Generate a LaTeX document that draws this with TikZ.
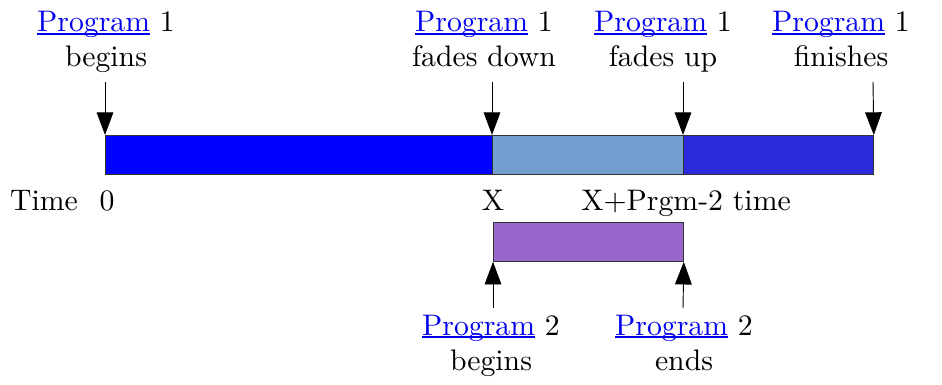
\documentclass[tikz,border=0pt]{standalone}
\usepackage{fontspec}
\setmainfont{lmroman10-regular}[Extension=.otf]
\usetikzlibrary{arrows.meta}

\definecolor{linkblue}{HTML}{0000EE}
\definecolor{progA}{HTML}{0000FF}
\definecolor{progFade}{HTML}{729FCF}
\definecolor{progB}{HTML}{2A2ADB}
\definecolor{progTwo}{HTML}{9966CC}
\definecolor{edge}{HTML}{333333}

% blue underlined link word
\newcommand{\proglink}{\textcolor{linkblue}{\setbox0\hbox{Program}\rlap{\rule[-0.085em]{\wd0}{0.05em}}\box0}}

\tikzset{
  lbl/.style={anchor=base, inner sep=0pt, font=\rmfamily\fontsize{22.3}{26}\selectfont},
  seg/.style={draw=edge, line width=0.6pt, anchor=north west, inner sep=0pt,
              minimum height=29.25pt},
  arr/.style={line width=0.7pt, -{Triangle[length=17pt, width=12.5pt]}},
}

\begin{document}
\begin{tikzpicture}[x=0.75pt, y=-0.75pt]
\useasboundingbox (0,0) rectangle (942,385);

% program 1 timeline
\node[seg, fill=progA,    minimum width=290.25pt] (bar1) at (105,135) {};
\node[seg, fill=progFade, minimum width=143.25pt] (bar2) at (492,135) {};
\node[seg, fill=progB,    minimum width=142.5pt]  (bar3) at (683,135) {};

% program 2 segment
\node[seg, fill=progTwo, minimum width=142.5pt] (bar4) at (493,222) {};

% top labels
\node[lbl] (l1a) at (106,32) {\proglink{} 1};
\node[lbl] (l1b) at (106,67) {begins};
\node[lbl] (l2a) at (484,32) {\proglink{} 1};
\node[lbl] (l2b) at (484,67) {fades down};
\node[lbl] (l3a) at (663,32) {\proglink{} 1};
\node[lbl] (l3b) at (663,67) {fades up};
\node[lbl] (l4a) at (841,32) {\proglink{} 1};
\node[lbl] (l4b) at (841,67) {finishes};

% time axis labels
\node[lbl] (tTime) at (44,210) {Time};
\node[lbl] (tZero) at (107,210) {0};
\node[lbl] (tX)    at (493,210) {X};
\node[lbl] (tEnd)  at (686,210) {X+Prgm-2 time};

% bottom labels
\node[lbl] (b1a) at (491,335) {\proglink{} 2};
\node[lbl] (b1b) at (491,370) {begins};
\node[lbl] (b2a) at (684,335) {\proglink{} 2};
\node[lbl] (b2b) at (684,370) {ends};

% arrow tails
\coordinate (s1) at (105,82);
\coordinate (s2) at (492,82);
\coordinate (s3) at (683,82);
\coordinate (s4) at (873,82);
\coordinate (s5) at (493,308);
\coordinate (s6) at (683,308);

\draw[arr] (s1) -- (bar1.north west);
\draw[arr] (s2) -- (bar2.north west);
\draw[arr] (s3) -- (bar3.north west);
\draw[arr] (s4) -- (bar3.north east);
\draw[arr] (s5) -- (bar4.south west);
\draw[arr] (s6) -- (bar4.south east);
\end{tikzpicture}
\end{document}
